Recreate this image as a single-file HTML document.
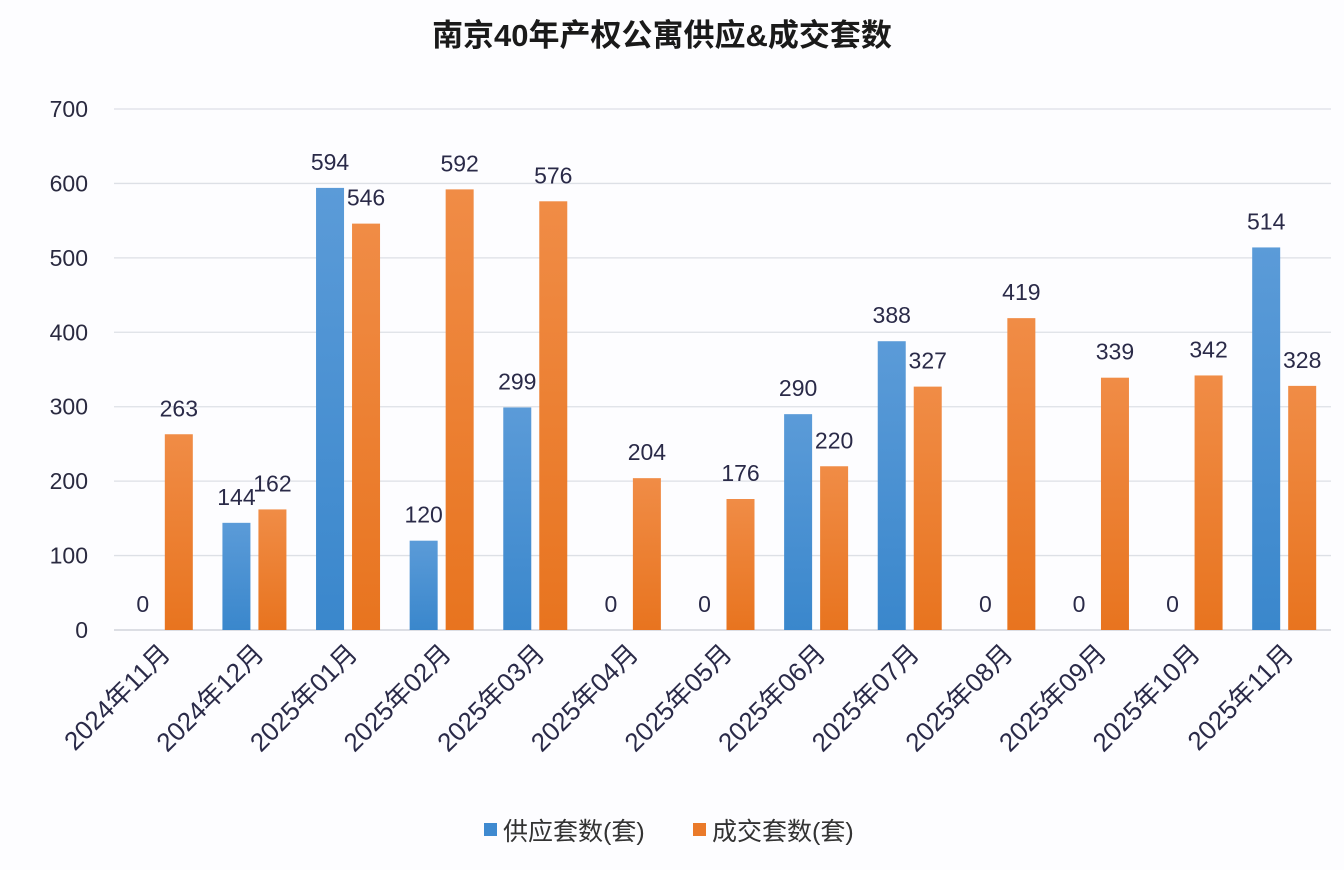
<!DOCTYPE html>
<html><head><meta charset="utf-8">
<style>
body{margin:0;background:#fff;}
svg{display:block;font-family:"Liberation Sans","Noto Sans CJK SC",sans-serif;}
</style></head>
<body>
<svg id="chart" width="1344" height="870" viewBox="0 0 1344 870" xmlns="http://www.w3.org/2000/svg">
<defs>
<linearGradient id="gb" x1="0" y1="0" x2="0" y2="1"><stop offset="0" stop-color="#5b9bd8"/><stop offset="1" stop-color="#3a87cc"/></linearGradient>
<linearGradient id="go" x1="0" y1="0" x2="0" y2="1"><stop offset="0" stop-color="#f08c46"/><stop offset="1" stop-color="#e8741f"/></linearGradient>
</defs>
<rect x="0" y="0" width="1344" height="870" fill="#fdfdff"/>
<text x="662" y="46" text-anchor="middle" font-size="31" font-weight="bold" fill="#1a1a1a">南京40年产权公寓供应&amp;成交套数</text>
<g id="grid"></g><g id="bars"></g><g id="labels"></g><g id="xlabels"></g>
<g>
<rect x="484" y="823" width="13" height="13" fill="#3f8ad0"/>
<text x="503" y="840" font-size="25" fill="#333">供应套数(套)</text>
<rect x="693" y="823" width="13" height="13" fill="#ea7a2a"/>
<text x="712" y="840" font-size="25" fill="#333">成交套数(套)</text>
</g>
</svg>
<script>
const categories=["2024年11月","2024年12月","2025年01月","2025年02月","2025年03月","2025年04月","2025年05月","2025年06月","2025年07月","2025年08月","2025年09月","2025年10月","2025年11月"];
const supply=[0,144,594,120,299,0,0,290,388,0,0,0,514];
const deals=[263,162,546,592,576,204,176,220,327,419,339,342,328];
const yTicks=[0,100,200,300,400,500,600,700];
const NS="http://www.w3.org/2000/svg";
const x0=114,x1=1331,yb=630,yt=109,ymax=700;
const bw=(x1-x0)/categories.length;
function y(v){return yb-(v/ymax)*(yb-yt);}
function cx(i){return x0+bw*(i+0.5);}
function mk(tag,attrs,parent){const e=document.createElementNS(NS,tag);for(const k in attrs)e.setAttribute(k,attrs[k]);document.getElementById(parent).appendChild(e);return e;}
yTicks.forEach(t=>{
  const l=mk('line',{x1:x0,x2:x1,y1:y(t),y2:y(t),stroke:t===0?'#c8ccd4':'#dde0e6','stroke-width':1.3},'grid');
  
  
  const tx=mk('text',{x:88,y:y(t)+8,'text-anchor':'end','font-size':23,fill:'#2a2a40'},'grid');
  tx.textContent=t;
  
  
});
const barW=28,gap=8;
categories.forEach((c,i)=>{
  const xc=cx(i);
  [[supply[i],xc-gap/2-barW,'url(#gb)','supply'],[deals[i],xc+gap/2,'url(#go)','deal']].forEach(([v,bx,f,s])=>{
    if(v>0){
      const r=mk('rect',{x:bx,y:y(v),width:barW,height:yb-y(v),fill:f},'bars');
      
      
    }
    const t=mk('text',{x:bx+barW/2,y:y(v)-18,'text-anchor':'middle','font-size':23,fill:'#2a2a48'},'labels');
    t.textContent=v;
    
    
  });
  const xl=mk('text',{x:0,y:0,'text-anchor':'end','font-size':26,fill:'#2a2a48',transform:`translate(${xc+11},${655}) rotate(-45)`},'xlabels');
  xl.textContent=c;
  
  
});
</script>
</body></html>
